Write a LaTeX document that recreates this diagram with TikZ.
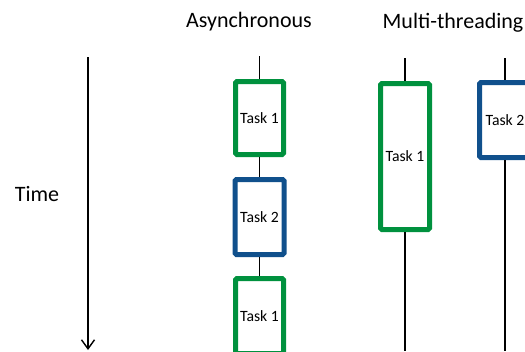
\documentclass[tikz,border=0pt]{standalone}
\usepackage{fontspec}
\setmainfont{Carlito}
\usetikzlibrary{arrows.meta}
\definecolor{taskgreen}{RGB}{0,145,62}
\definecolor{taskblue}{RGB}{16,80,140}
\tikzset{
  taskbox/.style={draw, line width=5pt, rounded corners=1.5pt, fill=white,
    inner sep=0pt, font=\fontsize{15.7}{18}\selectfont, text=black},
  greenbox/.style={taskbox, draw=taskgreen},
  bluebox/.style={taskbox, draw=taskblue},
  thread/.style={line width=1.4pt, black},
  heading/.style={font=\fontsize{22}{26}\selectfont, text=black, inner sep=0pt},
}
\begin{document}
\begin{tikzpicture}[x=1pt, y=-1pt]
  \useasboundingbox (0,0) rectangle (525,351);
  \clip (0,0) rectangle (525,351);

  % headings
  \node[heading] (async) at (249,22) {Asynchronous};
  \node[heading] (multi) at (453,23) {Multi-threading};

  % time axis
  \node[heading] (time) at (37,194) {Time};
  \coordinate (ttop) at (88,57);
  \coordinate (tbot) at (88,350);
  \draw[thread, -{Straight Barb[length=9pt, width=13pt, line width=1.4pt]}] (ttop) -- (tbot);

  % asynchronous: one thread, tasks interleaved
  \coordinate (atop) at (259.5,56);
  \node[greenbox, minimum width=48pt, minimum height=73pt] (a1) at (259.5,118) {Task 1};
  \node[bluebox, minimum width=49pt, minimum height=75pt] (a2) at (259.5,217) {Task 2};
  \node[greenbox, minimum width=48pt, minimum height=75pt] (a3) at (259.5,316) {Task 1};
  \draw[thread] (atop) -- (a1.north);
  \draw[thread] (a1.south) -- (a2.north);
  \draw[thread] (a2.south) -- (a3.north);

  % multi-threading: two threads side by side
  \coordinate (m1top) at (405,58);
  \coordinate (m1bot) at (405,351);
  \coordinate (m2top) at (505,58);
  \coordinate (m2bot) at (505,351);
  \node[greenbox, minimum width=49pt, minimum height=146pt] (m1) at (405,156.5) {Task 1};
  \node[bluebox, minimum width=51pt, minimum height=75pt] (m2) at (505,120) {Task 2};
  \draw[thread] (m1top) -- (m1.north);
  \draw[thread] (m1.south) -- (m1bot);
  \draw[thread] (m2top) -- (m2.north);
  \draw[thread] (m2.south) -- (m2bot);
\end{tikzpicture}
\end{document}
